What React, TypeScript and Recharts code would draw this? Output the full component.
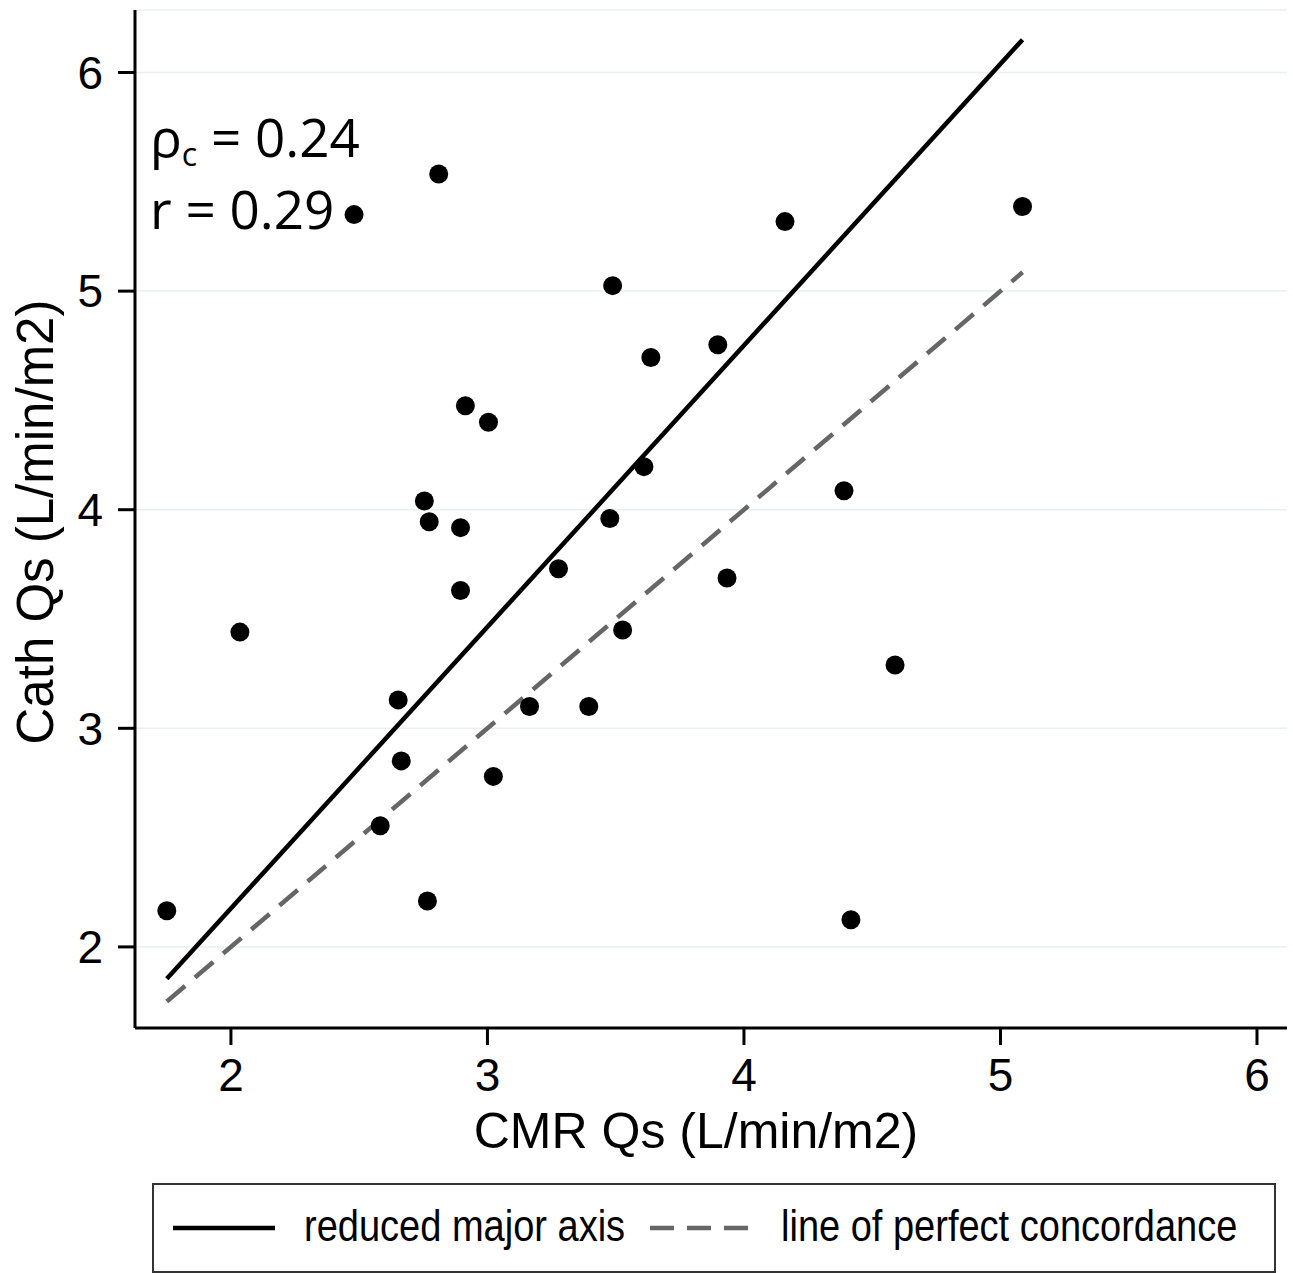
import React from 'react';
import { ScatterChart, Scatter, XAxis, YAxis, CartesianGrid, ReferenceLine } from 'recharts';

// CMR vs catheter systemic flow, one value per patient
const CMR_QS = [
  1.75, 2.035, 2.48, 2.582, 2.652, 2.664, 2.754, 2.766, 2.773, 2.81,
  2.895, 2.895, 2.914, 3.004, 3.023, 3.164, 3.277, 3.395, 3.477, 3.488,
  3.527, 3.61, 3.637, 3.898, 3.934, 4.16, 4.39, 4.417, 4.589, 5.086,
];
const CATH_QS = [
  2.165, 3.44, 5.35, 2.554, 3.13, 2.851, 4.04, 2.21, 3.945, 5.536,
  3.918, 3.63, 4.476, 4.4, 2.78, 3.1, 3.73, 3.1, 3.96, 5.025,
  3.45, 4.197, 4.696, 4.755, 3.688, 5.318, 4.087, 2.124, 3.29, 5.387,
];

// fitted lines, evaluated at the data's min / max x
const FIT_X = [1.75, 5.086];
const RMA_Y = [1.854, 6.15];
const CONCORDANCE_Y = [1.75, 5.086];

const TICKS = [2, 3, 4, 5, 6];
const X_DOMAIN: [number, number] = [1.626, 6.117];
const Y_DOMAIN: [number, number] = [1.629, 6.286];

const STATS = [
  { sym: '\u03c1', sub: 'c', value: '0.24' },
  { sym: 'r', sub: '', value: '0.29' },
];

const LINES = [
  { label: 'reduced major axis', color: '#000', dash: undefined as string | undefined, ys: RMA_Y },
  { label: 'line of perfect concordance', color: '#666', dash: '24 13', ys: CONCORDANCE_Y },
];

const FONT = '"Liberation Sans", Arial, sans-serif';
const STAT_FONT = '"Open Sans", "Noto Sans", sans-serif';

const points = CMR_QS.map((x, i) => ({ x, y: CATH_QS[i] }));

const Dot = (props: any) => <circle cx={props.cx} cy={props.cy} r={9.5} fill="#000" />;

export default function App() {
  return (
    <div style={{ position: 'absolute', left: 0, top: 0, width: 1293, height: 1273, background: '#fff' }}>
      <ScatterChart width={1293} height={1180} margin={{ top: 10, right: 6, bottom: 0, left: 0 }}>
        <CartesianGrid vertical={false} stroke="#e8f0f0" strokeWidth={1.5} />
        <XAxis
          type="number"
          dataKey="x"
          domain={X_DOMAIN}
          ticks={TICKS}
          allowDataOverflow
          height={152}
          axisLine={{ stroke: '#000', strokeWidth: 3 }}
          tickLine={{ stroke: '#000', strokeWidth: 3 }}
          tickSize={17}
          tickMargin={13}
          tick={{ fill: '#000', fontSize: 46, fontFamily: FONT }}
        />
        <YAxis
          type="number"
          dataKey="y"
          domain={Y_DOMAIN}
          ticks={TICKS}
          allowDataOverflow
          width={135}
          axisLine={{ stroke: '#000', strokeWidth: 3 }}
          tickLine={{ stroke: '#000', strokeWidth: 3 }}
          tickSize={17}
          tickMargin={15}
          tick={{ fill: '#000', fontSize: 46, fontFamily: FONT }}
        />
        {LINES.map((l) => (
          <ReferenceLine
            key={l.label}
            segment={FIT_X.map((x, i) => ({ x, y: l.ys[i] }))}
            stroke={l.color}
            strokeWidth={4.5}
            strokeDasharray={l.dash}
            ifOverflow="extendDomain"
          />
        ))}
        <Scatter data={points} shape={Dot} isAnimationActive={false} />
      </ScatterChart>

      {/* axis titles, stats and legend */}
      <svg width={1293} height={1273} style={{ position: 'absolute', left: 0, top: 0, pointerEvents: 'none' }}>
        <text x={696} y={1148} textAnchor="middle" fontSize={50} fontFamily={FONT} fill="#000">
          CMR Qs (L/min/m2)
        </text>
        <text
          x={53}
          y={522}
          transform="rotate(-90 53 522)"
          textAnchor="middle"
          fontSize={51}
          fontFamily={FONT}
          fill="#000"
        >
          Cath Qs (L/min/m2)
        </text>

        {STATS.map((s, i) => (
          <text key={s.sym} x={150} y={157 + i * 72} fontSize={53} fontFamily={STAT_FONT} fill="#000">
            {s.sym}
            {s.sub && (
              <tspan fontSize={32} dy={9}>
                {s.sub}
              </tspan>
            )}
            <tspan dy={s.sub ? -9 : 0}>{` = ${s.value}`}</tspan>
          </text>
        ))}

        <rect x={153} y={1184} width={1122} height={88} fill="#fff" stroke="#333" strokeWidth={2} />
        {LINES.map((item, i) => {
          const x0 = i === 0 ? 173 : 650;
          return (
            <g key={item.label}>
              <line
                x1={x0}
                x2={x0 + 102}
                y1={1228}
                y2={1228}
                stroke={item.color}
                strokeWidth={4.5}
                strokeDasharray={item.dash}
              />
              <text
                transform={`translate(${x0 + 131} 1241) scale(0.845 1)`}
                fontSize={45}
                fontFamily={FONT}
                fill="#000"
              >
                {item.label}
              </text>
            </g>
          );
        })}
      </svg>
    </div>
  );
}
